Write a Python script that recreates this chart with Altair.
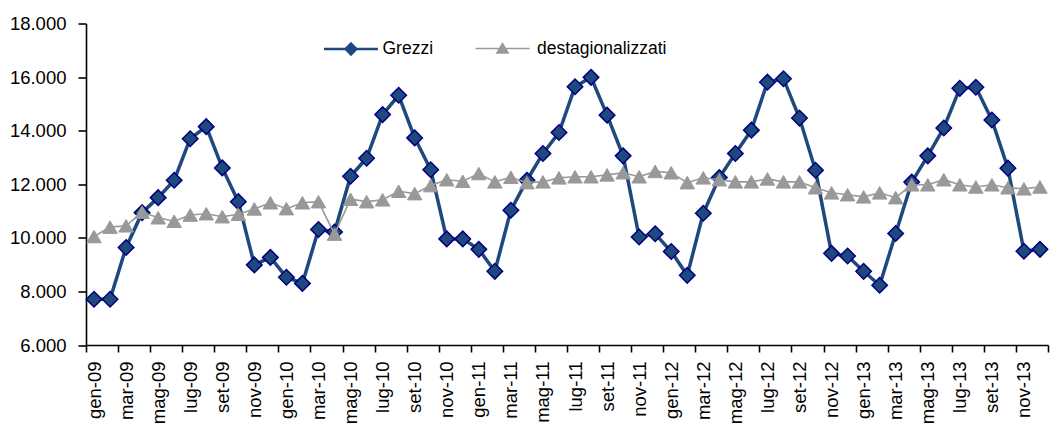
import altair as alt
import pandas as pd

FONT = "Liberation Sans"
BLUE = "#1F497D"
NAVY = "#000080"
GRAY = "#999999"

months = ["gen", "feb", "mar", "apr", "mag", "giu", "lug", "ago", "set", "ott", "nov", "dic"]
years = ["09", "10", "11", "12", "13"]
labels = [f"{m}-{y}" for y in years for m in months]

grezzi = [
    7710, 7710, 9640, 10940, 11500, 12150, 13700, 14150, 12610, 11350, 8990, 9270,
    8530, 8300, 10310, 10220, 12300, 12970, 14600, 15320, 13730, 12540, 9960, 9960,
    9570, 8750, 11030, 12150, 13150, 13930, 15640, 15990, 14580, 13060, 10030, 10150,
    9490, 8600, 10920, 12250, 13150, 14020, 15810, 15940, 14470, 12520, 9420, 9320,
    8750, 8230, 10160, 12080, 13060, 14100, 15580, 15620, 14400, 12600, 9500, 9570,
]
destag = [
    10050, 10400, 10450, 10960, 10750, 10620, 10850, 10900, 10790, 10880, 11080, 11310,
    11090, 11310, 11350, 10140, 11440, 11350, 11420, 11740, 11650, 11950, 12170, 12110,
    12400, 12090, 12260, 12060, 12090, 12240, 12280, 12280, 12350, 12430, 12280, 12480,
    12430, 12060, 12240, 12170, 12090, 12090, 12200, 12090, 12090, 11870, 11680, 11610,
    11530, 11680, 11500, 11980, 11980, 12170, 11980, 11900, 11980, 11870, 11830, 11900,
]
series_names = ["Grezzi", "destagionalizzati"]
y_ticks = [6000, 8000, 10000, 12000, 14000, 16000, 18000]

df = pd.DataFrame({"idx": list(range(len(labels))), "mese": labels,
                   series_names[0]: grezzi, series_names[1]: destag})
long = df.melt(id_vars=["idx", "mese"], var_name="serie", value_name="valore")

n = len(labels)
arr = "[" + ",".join(f"'{l}'" for l in labels) + "]"
x_tick_vals = [-0.5 + 2 * k for k in range(n // 2 + 1)]

W, H = 962, 321.5
AXIS_FS = 18.5

x_enc = alt.X(
    "idx:Q",
    scale=alt.Scale(domain=[-0.5, n - 0.5], nice=False, zero=False),
    axis=alt.Axis(
        values=x_tick_vals,
        labelExpr=f"datum.value < {n - 1} ? {arr}[datum.value + 0.5] : ''",
        labelAngle=270, labelOffset=W / n / 2, tickSize=7, labelPadding=9,
        grid=False, title=None, labelOverlap=False, labelFlush=False,
        domainColor="black", tickColor="black", domainWidth=1.6, tickWidth=1.6,
        labelFont=FONT, labelFontSize=AXIS_FS, labelColor="black",
    ),
)
y_enc = alt.Y(
    "valore:Q",
    scale=alt.Scale(domain=[6000, 18000], nice=False, zero=False),
    axis=alt.Axis(
        values=y_ticks,
        labelExpr="replace(format(datum.value, ',.0f'), ',', '.')",
        tickSize=8, labelPadding=12, grid=False, title=None, labelFlush=False,
        labelOverlap=False,
        domainColor="black", tickColor="black", domainWidth=1.6, tickWidth=1.6,
        labelFont=FONT, labelFontSize=AXIS_FS, labelColor="black",
    ),
)

PATH_G = "M-3,0L3,0M0,-0.6L0.6,0L0,0.6L-0.6,0Z"
PATH_D = "M-3,0L3,0M0,-0.55L0.62,0.5L-0.62,0.5Z"

base = alt.Chart(long)

g = base.transform_filter(alt.datum.serie == series_names[0])
g_line = g.mark_line(strokeWidth=3.5).encode(
    x=x_enc, y=y_enc,
    color=alt.Color("serie:N", scale=alt.Scale(domain=[series_names[0]], range=[BLUE]),
                    legend=alt.Legend(
                        title=None, orient="none", legendX=254.5, legendY=15,
                        symbolType=PATH_G, symbolSize=324, symbolStrokeWidth=2.5,
                        symbolFillColor=BLUE, symbolStrokeColor=BLUE,
                        labelOffset=21, labelFont=FONT, labelFontSize=17.5,
                        labelColor="black", padding=0,
                    )),
)
g_pts = g.mark_point(shape="diamond", filled=True, fill=BLUE, stroke=NAVY,
                     strokeWidth=1.5, size=240, opacity=1).encode(x=x_enc, y=y_enc)

d = base.transform_filter(alt.datum.serie == series_names[1])
d_line = d.mark_line(strokeWidth=1.6).encode(
    x=x_enc, y=y_enc,
    color=alt.Color("serie:N", scale=alt.Scale(domain=[series_names[1]], range=[GRAY]),
                    legend=alt.Legend(
                        title=None, orient="none", legendX=406.5, legendY=15,
                        symbolType=PATH_D, symbolSize=324, symbolStrokeWidth=1.6,
                        symbolFillColor=GRAY, symbolStrokeColor=GRAY,
                        labelOffset=24.5, labelFont=FONT, labelFontSize=17.5,
                        labelColor="black", padding=0,
                    )),
)
d_pts = d.mark_point(shape="triangle-up", filled=True, fill=GRAY, stroke=GRAY,
                     strokeWidth=1, size=210, opacity=1).encode(x=x_enc, y=y_enc)

chart = (
    alt.layer(g_line, g_pts, d_line, d_pts)
    .resolve_scale(color="independent")
    .properties(
        width=W, height=H,
        autosize=alt.AutoSizeParams(type="none"),
        padding={"left": 78, "top": 15.5, "right": 8, "bottom": 80},
    )
    .configure_view(stroke=None)
)

chart.save("out.html", embed_options={"renderer": "svg", "actions": False})
